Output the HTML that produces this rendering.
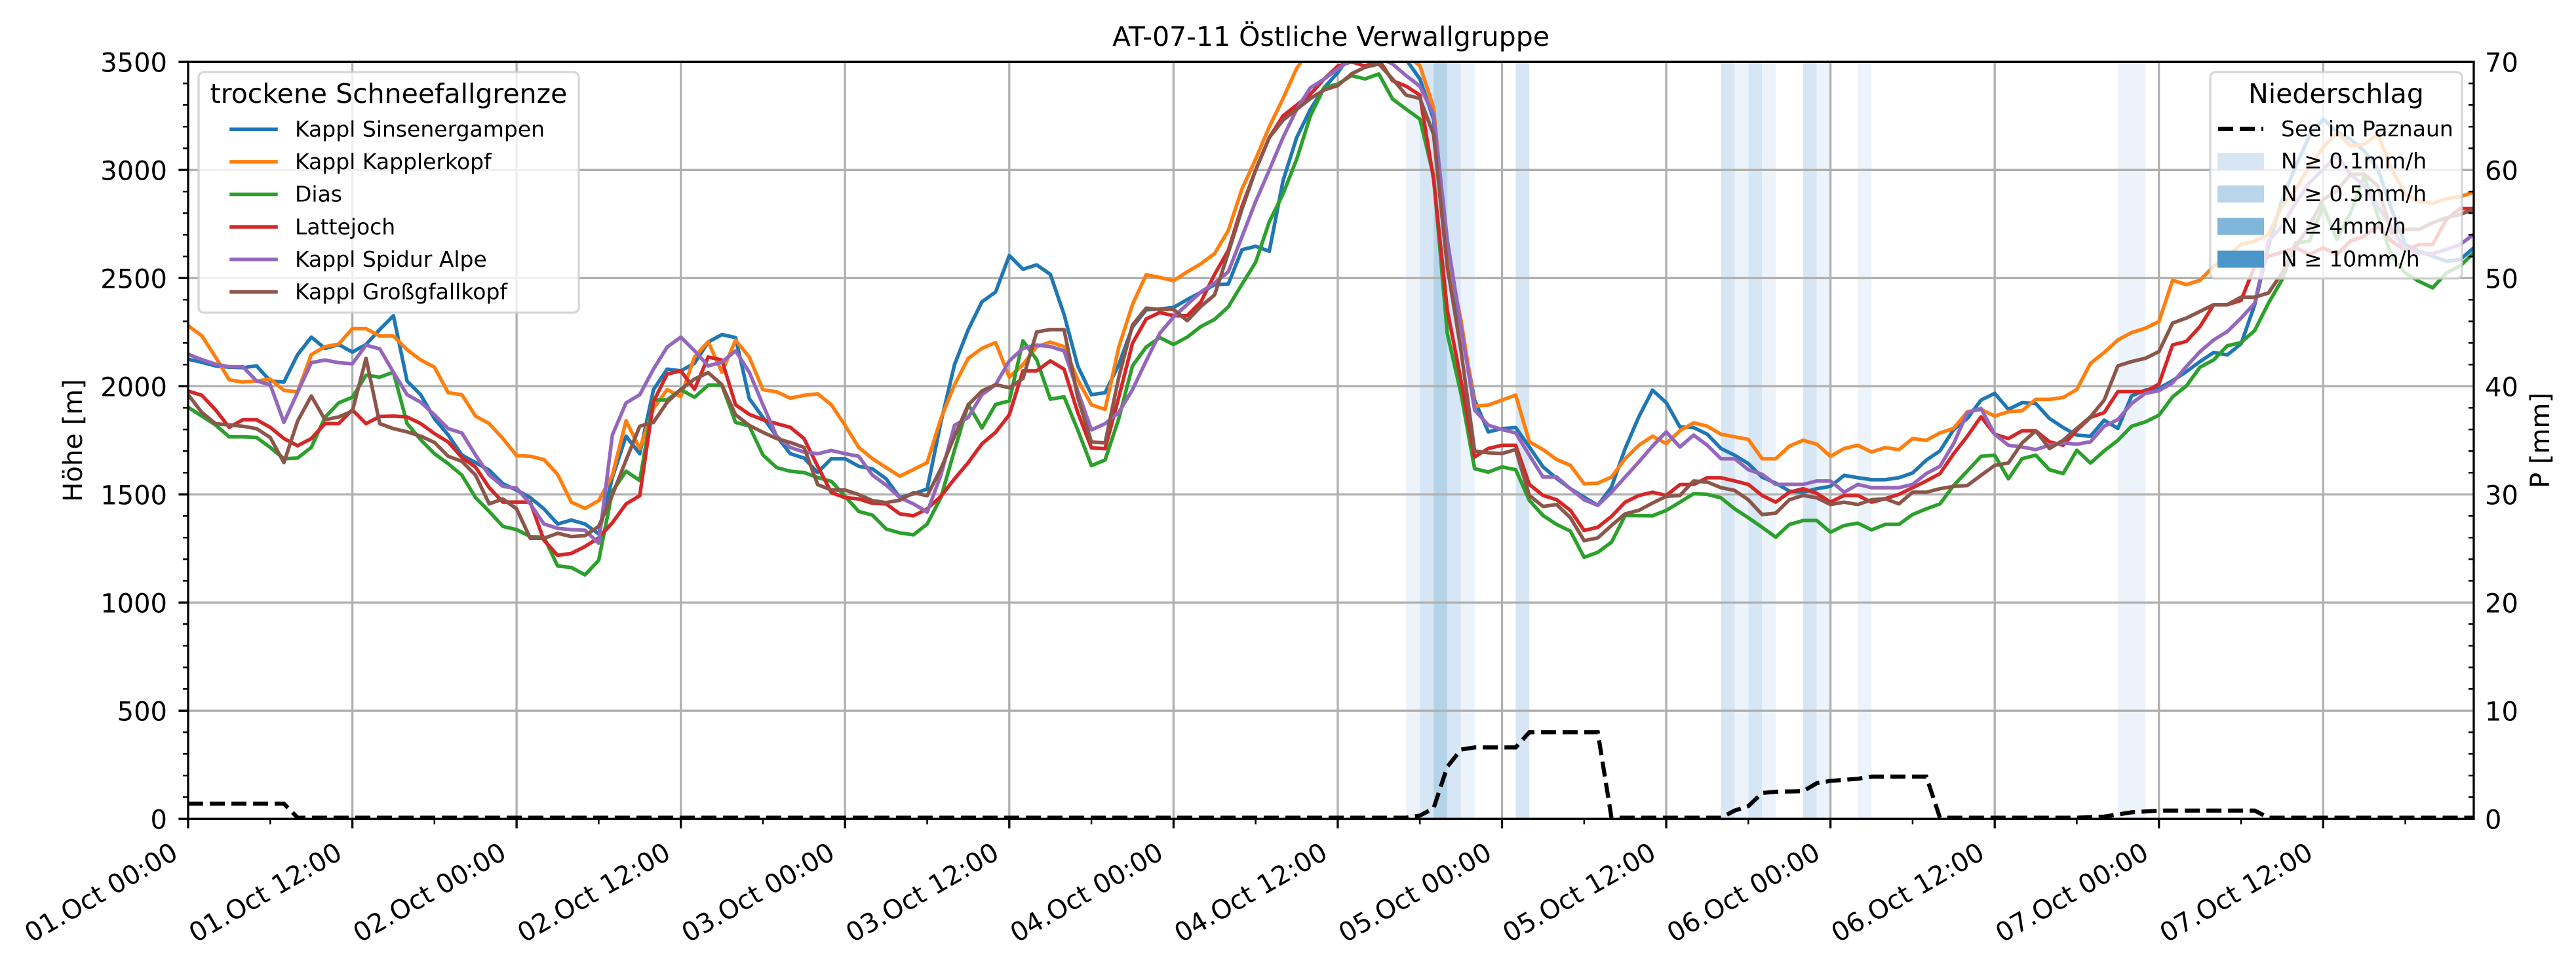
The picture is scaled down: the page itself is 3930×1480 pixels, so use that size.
<!DOCTYPE html>
<html><head><meta charset="utf-8"><style>
html,body{margin:0;padding:0;background:#fff}
svg{display:block}
text{font-family:"DejaVu Sans","Liberation Sans",sans-serif;fill:#000}
.s{fill:none;stroke-width:5.5;vector-effect:non-scaling-stroke;stroke-linejoin:round;stroke-linecap:square}
</style></head><body>
<svg width="3930" height="1480" viewBox="0 0 3930 1480" xmlns="http://www.w3.org/2000/svg">
<defs><clipPath id="c"><rect x="287" y="94.3" width="3487" height="1155"/></clipPath></defs>
<rect width="3930" height="1480" fill="#fff"/>
<!-- bands -->
<g>
<rect x="2145.3" y="94.3" width="20.9" height="1155" fill="#edf3fa"/>
<rect x="2166.2" y="94.3" width="20.9" height="1155" fill="#d6e6f4"/>
<rect x="2187.1" y="94.3" width="20.9" height="1155" fill="#b5d3e8"/>
<rect x="2208.0" y="94.3" width="20.9" height="1155" fill="#d6e6f4"/>
<rect x="2228.8" y="94.3" width="20.9" height="1155" fill="#edf3fa"/>
<rect x="2312.4" y="94.3" width="20.9" height="1155" fill="#d6e6f4"/>
<rect x="2625.6" y="94.3" width="20.9" height="1155" fill="#d6e6f4"/>
<rect x="2646.4" y="94.3" width="20.9" height="1155" fill="#edf3fa"/>
<rect x="2667.3" y="94.3" width="20.9" height="1155" fill="#d6e6f4"/>
<rect x="2688.2" y="94.3" width="20.9" height="1155" fill="#edf3fa"/>
<rect x="2750.8" y="94.3" width="20.9" height="1155" fill="#d6e6f4"/>
<rect x="2771.7" y="94.3" width="20.9" height="1155" fill="#edf3fa"/>
<rect x="2834.4" y="94.3" width="20.9" height="1155" fill="#edf3fa"/>
<rect x="3231.1" y="94.3" width="41.8" height="1155" fill="#edf3fa"/>
</g>
<!-- grid -->
<g stroke="#b0b0b0" stroke-width="3.3">
<path d="M537.6,94.3V1249.3M788.1,94.3V1249.3M1038.7,94.3V1249.3M1289.2,94.3V1249.3M1539.8,94.3V1249.3M1790.4,94.3V1249.3M2040.9,94.3V1249.3M2291.5,94.3V1249.3M2542,94.3V1249.3M2792.6,94.3V1249.3M3043.2,94.3V1249.3M3293.7,94.3V1249.3M3544.3,94.3V1249.3"/>
<path d="M287,1084.3H3774M287,919.3H3774M287,754.3H3774M287,589.3H3774M287,424.3H3774M287,259.3H3774"/>
</g>
<!-- series -->
<g clip-path="url(#c)">
<g transform="matrix(20.88,0,0,-0.33,287,1249.3)">
<polyline class="s" stroke="#1f77b4" points="0,2125 1,2111 2,2094 3,2088 4,2086 5,2094 6,2024 7,2019 8,2146 9,2227 10,2175 11,2193 12,2158 13,2193 14,2262 15,2326 16,2024 17,1960 18,1850 19,1775 20,1682 21,1647 22,1612 23,1549 24,1520 25,1485 26,1433 27,1363 28,1381 29,1363 30,1317 31,1578 32,1769 33,1688 34,1984 35,2079 36,2071 37,2106 38,2204 39,2239 40,2225 41,1943 42,1856 43,1769 44,1688 45,1668 46,1601 47,1665 48,1665 49,1630 50,1618 51,1572 52,1485 53,1502 54,1525 55,1833 56,2100 57,2262 58,2390 59,2436 60,2604 61,2541 62,2561 63,2517 64,2332 65,2094 66,1961 67,1970 68,2100 69,2274 70,2353 71,2357 72,2364 73,2401 74,2434 75,2469 76,2473 77,2631 78,2647 79,2624 80,2950 81,3150 82,3280 83,3380 84,3450 85,3540 86,3560 87,3560 88,3540 89,3510 90,3421 91,3235 92,2555 93,2276 94,1936 95,1789 96,1804 97,1809 98,1719 99,1627 100,1573 101,1526 102,1487 103,1449 104,1534 105,1712 106,1859 107,1982 108,1924 109,1812 110,1809 111,1778 112,1712 113,1681 114,1642 115,1580 116,1552 117,1515 118,1510 119,1526 120,1537 121,1588 122,1577 123,1568 124,1568 125,1577 126,1599 127,1658 128,1701 129,1800 130,1851 131,1936 132,1967 133,1893 134,1924 135,1920 136,1851 137,1809 138,1774 139,1769 140,1843 141,1805 142,1955 143,1982 144,1990 145,2026 146,2067 147,2114 148,2156 149,2145 150,2196 151,2377 152,2647 153,2864 154,3019 155,3158 156,3235 157,3176 158,3142 159,3088 160,3003 161,2817 162,2655 163,2624 164,2601 165,2578 166,2585 167,2640"/>
<polyline class="s" stroke="#ff7f0e" points="0,2280 1,2233 2,2135 3,2030 4,2019 5,2024 6,2033 7,1981 8,1974 9,2146 10,2183 11,2195 12,2266 13,2266 14,2232 15,2232 16,2169 17,2121 18,2088 19,1970 20,1961 21,1862 22,1827 23,1758 24,1679 25,1676 26,1661 27,1592 28,1464 29,1435 30,1471 31,1589 32,1841 33,1711 34,1897 35,1984 36,1952 37,2135 38,2206 39,2065 40,2213 41,2135 42,1984 43,1974 44,1945 45,1958 46,1965 47,1914 48,1819 49,1717 50,1665 51,1624 52,1584 53,1615 54,1647 55,1850 56,2007 57,2129 58,2175 59,2202 60,2042 61,2100 62,2183 63,2204 64,2183 65,2030 66,1914 67,1893 68,2181 69,2378 70,2515 71,2503 72,2488 73,2529 74,2566 75,2613 76,2720 77,2912 78,3050 79,3200 80,3330 81,3470 82,3560 83,3580 84,3580 85,3580 86,3580 87,3580 88,3560 89,3530 90,3482 91,3289 92,2616 93,2307 94,1908 95,1913 96,1936 97,1959 98,1743 99,1707 100,1661 101,1634 102,1549 103,1552 104,1580 105,1665 106,1727 107,1769 108,1735 109,1794 110,1831 111,1815 112,1778 113,1766 114,1754 115,1665 116,1665 117,1723 118,1750 119,1732 120,1676 121,1712 122,1727 123,1696 124,1716 125,1707 126,1758 127,1750 128,1784 129,1805 130,1882 131,1893 132,1862 133,1882 134,1887 135,1939 136,1939 137,1948 138,1985 139,2106 140,2156 141,2214 142,2248 143,2268 144,2299 145,2490 146,2470 147,2490 148,2555 149,2601 150,2655 151,2671 152,2702 153,2833 154,2910 155,3019 156,3104 157,3173 158,3111 159,3119 160,3165 161,3003 162,2887 163,2856 164,2845 165,2867 166,2876 167,2898"/>
<polyline class="s" stroke="#2ca02c" points="0,1903 1,1862 2,1821 3,1766 4,1766 5,1763 6,1717 7,1665 8,1668 9,1717 10,1856 11,1923 12,1949 13,2051 14,2042 15,2065 16,1827 17,1752 18,1688 19,1642 20,1589 21,1485 22,1421 23,1352 24,1337 25,1305 26,1302 27,1169 28,1162 29,1128 30,1195 31,1514 32,1607 33,1564 34,1937 35,1937 36,1984 37,1949 38,2005 39,2005 40,1833 41,1816 42,1682 43,1624 44,1607 45,1601 46,1578 47,1560 48,1491 49,1421 50,1404 51,1340 52,1322 53,1313 54,1363 55,1485 56,1705 57,1916 58,1807 59,1916 60,1932 61,2210 62,2123 63,1940 64,1951 65,1798 66,1633 67,1659 68,1850 69,2094 70,2181 71,2225 72,2193 73,2227 74,2276 75,2309 76,2367 77,2471 78,2573 79,2761 80,2889 81,3050 82,3250 83,3380 84,3397 85,3436 86,3421 87,3444 88,3328 89,3281 90,3235 91,2972 92,2245 93,1967 94,1619 95,1603 96,1627 97,1614 98,1472 99,1402 100,1361 101,1330 102,1209 103,1232 104,1279 105,1402 106,1402 107,1401 108,1426 109,1464 110,1503 111,1500 112,1484 113,1433 114,1392 115,1348 116,1302 117,1361 118,1379 119,1379 120,1325 121,1356 122,1367 123,1336 124,1361 125,1361 126,1407 127,1433 128,1456 129,1541 130,1608 131,1676 132,1681 133,1572 134,1665 135,1681 136,1614 137,1596 138,1704 139,1645 140,1701 141,1750 142,1815 143,1835 144,1866 145,1951 146,2001 147,2088 148,2122 149,2187 150,2202 151,2258 152,2384 153,2493 154,2663 155,2671 156,2833 157,2678 158,2802 159,2972 160,2787 161,2601 162,2524 163,2485 164,2455 165,2524 166,2555 167,2616"/>
<polyline class="s" stroke="#d62728" points="0,1978 1,1958 2,1891 3,1810 4,1845 5,1845 6,1810 7,1758 8,1725 9,1758 10,1827 11,1827 12,1891 13,1827 14,1860 15,1862 16,1858 17,1827 18,1781 19,1742 20,1671 21,1626 22,1531 23,1464 24,1464 25,1464 26,1288 27,1218 28,1227 29,1259 30,1299 31,1369 32,1456 33,1494 34,1928 35,2056 36,2071 37,1986 38,2135 39,2121 40,1914 41,1870 42,1845 43,1827 44,1810 45,1758 46,1630 47,1508 48,1485 49,1479 50,1459 51,1456 52,1410 53,1401 54,1433 55,1491 56,1572 57,1647 58,1734 59,1787 60,1868 61,2071 62,2071 63,2117 64,2079 65,1879 66,1715 67,1711 68,1949 69,2198 70,2311 71,2341 72,2326 73,2326 74,2390 75,2517 76,2628 77,2831 78,3000 79,3150 80,3250 81,3300 82,3350 83,3420 84,3480 85,3500 86,3480 87,3510 88,3413 89,3387 90,3346 91,2957 92,2354 93,2029 94,1673 95,1712 96,1727 97,1727 98,1546 99,1495 100,1475 101,1426 102,1333 103,1348 104,1398 105,1464 106,1495 107,1510 108,1495 109,1545 110,1546 111,1577 112,1577 113,1562 114,1546 115,1495 116,1464 117,1510 118,1526 119,1505 120,1464 121,1495 122,1495 123,1464 124,1480 125,1500 126,1531 127,1562 128,1596 129,1688 130,1769 131,1859 132,1778 133,1758 134,1794 135,1794 136,1743 137,1727 138,1797 139,1856 140,1878 141,1975 142,1975 143,1975 144,2010 145,2191 146,2207 147,2276 148,2377 149,2377 150,2397 151,2555 152,2601 153,2620 154,2640 155,2609 156,2640 157,2609 158,2671 159,2694 160,2740 161,2671 162,2629 163,2655 164,2655 165,2771 166,2821 167,2821"/>
<polyline class="s" stroke="#9467bd" points="0,2148 1,2123 2,2102 3,2090 4,2090 5,2024 6,2007 7,1833 8,1972 9,2109 10,2121 11,2109 12,2104 13,2190 14,2173 15,2065 16,1961 17,1926 18,1868 19,1804 20,1784 21,1682 22,1589 23,1537 24,1529 25,1456 26,1363 27,1343 28,1337 29,1334 30,1274 31,1775 32,1923 33,1961 34,2079 35,2181 36,2227 37,2164 38,2094 39,2111 40,2164 41,2065 42,1914 43,1769 44,1717 45,1696 46,1688 47,1703 48,1688 49,1676 50,1589 51,1543 52,1485 53,1456 54,1418 55,1589 56,1819 57,1856 58,1961 59,2007 60,2117 61,2175 62,2190 63,2183 64,2164 65,1978 66,1798 67,1827 68,1879 69,1984 70,2117 71,2245 72,2320 73,2378 74,2436 75,2477 76,2529 77,2691 78,2854 79,3000 80,3150 81,3280 82,3380 83,3420 84,3467 85,3510 86,3520 87,3520 88,3490 89,3436 90,3387 91,3258 92,2678 93,2276 94,1890 95,1820 96,1800 97,1784 98,1681 99,1580 100,1580 101,1526 102,1475 103,1449 104,1510 105,1580 106,1650 107,1723 108,1789 109,1719 110,1774 111,1727 112,1665 113,1665 114,1614 115,1593 116,1546 117,1546 118,1546 119,1562 120,1562 121,1510 122,1546 123,1531 124,1531 125,1531 126,1546 127,1596 128,1630 129,1735 130,1877 131,1897 132,1778 133,1727 134,1719 135,1707 136,1727 137,1738 138,1732 139,1743 140,1815 141,1846 142,1920 143,1967 144,1979 145,2016 146,2091 147,2160 148,2214 149,2253 150,2315 151,2384 152,2671 153,2740 154,2848 155,2941 156,3003 157,3065 158,2980 159,2926 160,2833 161,2732 162,2632 163,2617 164,2613 165,2632 166,2655 167,2702"/>
<polyline class="s" stroke="#8c564b" points="0,1961 1,1879 2,1827 3,1821 4,1815 5,1804 6,1763 7,1647 8,1839 9,1955 10,1845 11,1858 12,1885 13,2129 14,1827 15,1804 16,1789 17,1769 18,1740 19,1676 20,1653 21,1589 22,1456 23,1479 24,1433 25,1297 26,1297 27,1320 28,1305 29,1309 30,1352 31,1497 32,1659 33,1815 34,1833 35,1926 36,1986 37,2033 38,2063 39,2007 40,1868 41,1819 42,1787 43,1758 44,1740 45,1717 46,1545 47,1520 48,1520 49,1499 50,1471 51,1462 52,1473 53,1508 54,1494 55,1618 56,1769 57,1914 58,1978 59,2007 60,1993 61,2036 62,2251 63,2262 64,2262 65,1949 66,1742 67,1738 68,2042 69,2283 70,2361 71,2355 72,2355 73,2303 74,2369 75,2422 76,2616 77,2819 78,3000 79,3150 80,3230 81,3280 82,3330 83,3370 84,3390 85,3444 86,3475 87,3490 88,3421 89,3346 90,3331 91,3165 92,2555 93,2168 94,1701 95,1692 96,1689 97,1707 98,1495 99,1444 100,1453 101,1392 102,1286 103,1299 104,1356 105,1410 106,1426 107,1460 108,1491 109,1495 110,1562 111,1557 112,1531 113,1518 114,1475 115,1407 116,1413 117,1475 118,1495 119,1484 120,1453 121,1464 122,1453 123,1475 124,1480 125,1456 126,1510 127,1510 128,1526 129,1537 130,1541 131,1588 132,1634 133,1645 134,1738 135,1794 136,1712 137,1750 138,1805 139,1859 140,1936 141,2094 142,2114 143,2129 144,2160 145,2292 146,2315 147,2346 148,2377 149,2377 150,2412 151,2412 152,2431 153,2524 154,2647 155,2740 156,2864 157,2903 158,2980 159,2980 160,2926 161,2709 162,2725 163,2725 164,2756 165,2779 166,2794 167,2818"/>
</g>
<!-- precipitation dashed -->
<polyline fill="none" stroke="#000" stroke-width="6.25" stroke-dasharray="23,10" points="287,1226.2 433.2,1226.2 454,1247.6 2145.3,1247.6 2166.2,1244.4 2187.1,1233.3 2208,1170.1 2228.8,1143.7 2249.7,1140.4 2312.4,1140.4 2333.2,1117.3 2437.6,1117.3 2458.5,1247.6 2625.6,1247.6 2646.4,1236.8 2667.3,1230 2688.2,1210 2709.1,1208 2750.8,1207.2 2771.7,1195 2792.6,1191.5 2834.4,1188.2 2855.2,1184.9 2938.8,1184.9 2959.6,1247.6 3168.4,1247.6 3210.2,1246 3231.1,1242.7 3251.9,1239.4 3293.7,1236.8 3439.9,1236.8 3460.8,1247.6 3774,1247.6"/>
</g>
<!-- spines -->
<rect x="287" y="94.3" width="3487" height="1155" fill="none" stroke="#000" stroke-width="3.3"/>
<!-- ticks -->
<g stroke="#000">
<path stroke-width="3.3" d="M272.4,1249.3H287M272.4,1084.3H287M272.4,919.3H287M272.4,754.3H287M272.4,589.3H287M272.4,424.3H287M272.4,259.3H287M272.4,94.3H287"/>
<path stroke-width="2.5" d="M279,1216.3h8M279,1183.3h8M279,1150.3h8M279,1117.3h8M279,1051.3h8M279,1018.3h8M279,985.3h8M279,952.3h8M279,886.3h8M279,853.3h8M279,820.3h8M279,787.3h8M279,721.3h8M279,688.3h8M279,655.3h8M279,622.3h8M279,556.3h8M279,523.3h8M279,490.3h8M279,457.3h8M279,391.3h8M279,358.3h8M279,325.3h8M279,292.3h8M279,226.3h8M279,193.3h8M279,160.3h8M279,127.3h8"/>
<path stroke-width="2.5" d="M3766,1216.3h8M3766,1183.3h8M3766,1150.3h8M3766,1117.3h8M3766,1051.3h8M3766,1018.3h8M3766,985.3h8M3766,952.3h8M3766,886.3h8M3766,853.3h8M3766,820.3h8M3766,787.3h8M3766,721.3h8M3766,688.3h8M3766,655.3h8M3766,622.3h8M3766,556.3h8M3766,523.3h8M3766,490.3h8M3766,457.3h8M3766,391.3h8M3766,358.3h8M3766,325.3h8M3766,292.3h8M3766,226.3h8M3766,193.3h8M3766,160.3h8M3766,127.3h8"/>
<path stroke-width="3.3" d="M287,1249.3v14.6M537.6,1249.3v14.6M788.1,1249.3v14.6M1038.7,1249.3v14.6M1289.2,1249.3v14.6M1539.8,1249.3v14.6M1790.4,1249.3v14.6M2040.9,1249.3v14.6M2291.5,1249.3v14.6M2542,1249.3v14.6M2792.6,1249.3v14.6M3043.2,1249.3v14.6M3293.7,1249.3v14.6M3544.3,1249.3v14.6"/>
<path stroke-width="2.5" d="M412.3,1249.3v8.3M662.8,1249.3v8.3M913.4,1249.3v8.3M1164,1249.3v8.3M1414.5,1249.3v8.3M1665.1,1249.3v8.3M1915.6,1249.3v8.3M2166.2,1249.3v8.3M2416.8,1249.3v8.3M2667.3,1249.3v8.3M2917.9,1249.3v8.3M3168.4,1249.3v8.3M3419,1249.3v8.3M3669.6,1249.3v8.3"/>
</g>
<!-- y tick labels -->
<g font-size="40" text-anchor="end">
<text x="255" y="1264.3">0</text>
<text x="255" y="1099.3">500</text>
<text x="255" y="934.3">1000</text>
<text x="255" y="769.3">1500</text>
<text x="255" y="604.3">2000</text>
<text x="255" y="439.3">2500</text>
<text x="255" y="274.3">3000</text>
<text x="255" y="109.3">3500</text>
</g>
<g font-size="40">
<text x="3791" y="1264.3">0</text>
<text x="3791" y="1099.3">10</text>
<text x="3791" y="934.3">20</text>
<text x="3791" y="769.3">30</text>
<text x="3791" y="604.3">40</text>
<text x="3791" y="439.3">50</text>
<text x="3791" y="274.3">60</text>
<text x="3791" y="109.3">70</text>
</g>
<!-- x tick labels -->
<g font-size="40" text-anchor="end">
<text transform="translate(274,1308.5) rotate(-30)">01.Oct 00:00</text>
<text transform="translate(524.6,1308.5) rotate(-30)">01.Oct 12:00</text>
<text transform="translate(775.1,1308.5) rotate(-30)">02.Oct 00:00</text>
<text transform="translate(1025.7,1308.5) rotate(-30)">02.Oct 12:00</text>
<text transform="translate(1276.2,1308.5) rotate(-30)">03.Oct 00:00</text>
<text transform="translate(1526.8,1308.5) rotate(-30)">03.Oct 12:00</text>
<text transform="translate(1777.4,1308.5) rotate(-30)">04.Oct 00:00</text>
<text transform="translate(2027.9,1308.5) rotate(-30)">04.Oct 12:00</text>
<text transform="translate(2278.5,1308.5) rotate(-30)">05.Oct 00:00</text>
<text transform="translate(2529,1308.5) rotate(-30)">05.Oct 12:00</text>
<text transform="translate(2779.6,1308.5) rotate(-30)">06.Oct 00:00</text>
<text transform="translate(3030.2,1308.5) rotate(-30)">06.Oct 12:00</text>
<text transform="translate(3280.7,1308.5) rotate(-30)">07.Oct 00:00</text>
<text transform="translate(3531.3,1308.5) rotate(-30)">07.Oct 12:00</text>
</g>
<!-- axis labels & title -->
<text font-size="40" text-anchor="middle" transform="translate(125,672) rotate(-90)">Höhe [m]</text>
<text font-size="40" text-anchor="middle" transform="translate(3889,672) rotate(-90)">P [mm]</text>
<text font-size="41" text-anchor="middle" x="2030.5" y="70">AT-07-11 Östliche Verwallgruppe</text>
<!-- left legend -->
<rect x="303" y="110" width="580" height="367" rx="8" fill="#fff" fill-opacity="0.8" stroke="#cccccc" stroke-opacity="0.8" stroke-width="3.3"/>
<text font-size="41" text-anchor="middle" x="593" y="157">trockene Schneefallgrenze</text>
<g stroke-width="5.5" stroke-linecap="square">
<line x1="353" y1="197.3" x2="421" y2="197.3" stroke="#1f77b4"/>
<line x1="353" y1="246.9" x2="421" y2="246.9" stroke="#ff7f0e"/>
<line x1="353" y1="296.5" x2="421" y2="296.5" stroke="#2ca02c"/>
<line x1="353" y1="346.1" x2="421" y2="346.1" stroke="#d62728"/>
<line x1="353" y1="395.7" x2="421" y2="395.7" stroke="#9467bd"/>
<line x1="353" y1="445.3" x2="421" y2="445.3" stroke="#8c564b"/>
</g>
<g font-size="33">
<text x="450" y="208.5">Kappl Sinsenergampen</text>
<text x="450" y="258.1">Kappl Kapplerkopf</text>
<text x="450" y="307.7">Dias</text>
<text x="450" y="357.3">Lattejoch</text>
<text x="450" y="406.9">Kappl Spidur Alpe</text>
<text x="450" y="456.5">Kappl Großgfallkopf</text>
</g>
<!-- right legend -->
<rect x="3372" y="110" width="384" height="315" rx="8" fill="#fff" fill-opacity="0.8" stroke="#cccccc" stroke-opacity="0.8" stroke-width="3.3"/>
<text font-size="41" text-anchor="middle" x="3564" y="157">Niederschlag</text>
<line x1="3384" y1="196.7" x2="3453" y2="196.7" stroke="#000" stroke-width="6.25" stroke-dasharray="23,10"/>
<rect x="3383" y="233" width="71" height="26" fill="#d6e6f4"/>
<rect x="3383" y="283" width="71" height="26" fill="#b8d5ea"/>
<rect x="3383" y="332.5" width="71" height="26" fill="#80b6da"/>
<rect x="3383" y="382.5" width="71" height="26" fill="#4b97c9"/>
<g font-size="33">
<text x="3480" y="208">See im Paznaun</text>
<text x="3480" y="257">N ≥ 0.1mm/h</text>
<text x="3480" y="307">N ≥ 0.5mm/h</text>
<text x="3480" y="356.5">N ≥ 4mm/h</text>
<text x="3480" y="406.5">N ≥ 10mm/h</text>
</g>
</svg>
</body></html>
